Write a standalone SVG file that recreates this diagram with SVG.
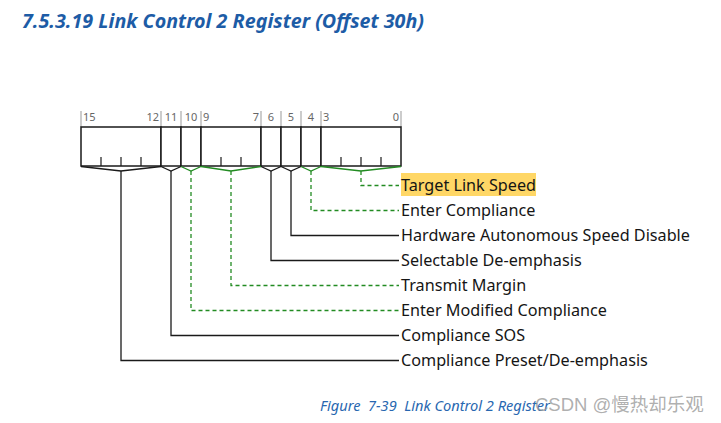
<svg xmlns="http://www.w3.org/2000/svg" width="721" height="423" viewBox="0 0 721 423">
<style>
.bg{fill:#ffffff}
.title{font-family:"Noto Sans",sans-serif;font-weight:bold;font-style:italic;font-size:19.7px;fill:#1d5ca6}
.cap{font-family:"Noto Sans",sans-serif;font-style:italic;font-size:14.6px;fill:#2867b0}
.wm{font-family:"Liberation Sans","Noto Sans CJK SC",sans-serif;font-size:18.5px;fill:#9a9a9a;fill-opacity:0.8}
.bit{font-family:"Noto Sans",sans-serif;font-size:11px;fill:#666}
.lbl{font-family:"Noto Sans",sans-serif;font-size:16.2px;fill:#151515}
.fld{fill:#fff;stroke:#1a1a1a;stroke-width:1.5}
.tick{stroke:#1a1a1a;stroke-width:1.2}
.top{stroke:#999;stroke-width:1}
.k{fill:none;stroke:#1a1a1a;stroke-width:1.3}
.g{fill:none;stroke:#228b22;stroke-width:1.3}
.gd{fill:none;stroke:#228b22;stroke-width:1.3;stroke-dasharray:4 3}
</style>
<rect class="bg" x="0" y="0" width="721" height="423"/>
<text class="title" x="22" y="28">7.5.3.19 Link Control 2 Register (Offset 30h)</text>

<g id="bit-labels">
<line class="top" x1="81" y1="111" x2="81" y2="127"/>
<line class="top" x1="161" y1="111" x2="161" y2="127"/>
<line class="top" x1="181" y1="111" x2="181" y2="127"/>
<line class="top" x1="201" y1="111" x2="201" y2="127"/>
<line class="top" x1="261" y1="111" x2="261" y2="127"/>
<line class="top" x1="281" y1="111" x2="281" y2="127"/>
<line class="top" x1="301" y1="111" x2="301" y2="127"/>
<line class="top" x1="321" y1="111" x2="321" y2="127"/>
<line class="top" x1="401" y1="111" x2="401" y2="127"/>
<text class="bit" x="83" y="121">15</text>
<text class="bit" x="159" y="121" text-anchor="end">12</text>
<text class="bit" x="171" y="121" text-anchor="middle">11</text>
<text class="bit" x="191" y="121" text-anchor="middle">10</text>
<text class="bit" x="203" y="121">9</text>
<text class="bit" x="259" y="121" text-anchor="end">7</text>
<text class="bit" x="271" y="121" text-anchor="middle">6</text>
<text class="bit" x="291" y="121" text-anchor="middle">5</text>
<text class="bit" x="311" y="121" text-anchor="middle">4</text>
<text class="bit" x="323" y="121">3</text>
<text class="bit" x="399" y="121" text-anchor="end">0</text>
</g>

<g id="field-15-12"><rect class="fld" x="81" y="127" width="80" height="39"/>
<line class="tick" x1="101" y1="157" x2="101" y2="166"/><line class="tick" x1="121" y1="157" x2="121" y2="166"/><line class="tick" x1="141" y1="157" x2="141" y2="166"/></g>
<g id="field-11"><rect class="fld" x="161" y="127" width="20" height="39"/></g>
<g id="field-10"><rect class="fld" x="181" y="127" width="20" height="39"/></g>
<g id="field-9-7"><rect class="fld" x="201" y="127" width="60" height="39"/>
<line class="tick" x1="221" y1="157" x2="221" y2="166"/><line class="tick" x1="241" y1="157" x2="241" y2="166"/></g>
<g id="field-6"><rect class="fld" x="261" y="127" width="20" height="39"/></g>
<g id="field-5"><rect class="fld" x="281" y="127" width="20" height="39"/></g>
<g id="field-4"><rect class="fld" x="301" y="127" width="20" height="39"/></g>
<g id="field-3-0"><rect class="fld" x="321" y="127" width="80" height="39"/>
<line class="tick" x1="341" y1="157" x2="341" y2="166"/><line class="tick" x1="361" y1="157" x2="361" y2="166"/><line class="tick" x1="381" y1="157" x2="381" y2="166"/></g>

<g id="connectors">
<polyline class="k" points="81,166.5 121,171 161,166.5"/>
<polyline class="k" points="161,166.5 171,171 181,166.5"/>
<polyline class="g" points="181,166.5 191,171 201,166.5"/>
<polyline class="g" points="201,166.5 231,171 261,166.5"/>
<polyline class="k" points="261,166.5 271,171 281,166.5"/>
<polyline class="k" points="281,166.5 291,171 301,166.5"/>
<polyline class="g" points="301,166.5 311,171 321,166.5"/>
<polyline class="g" points="321,166.5 361,171 401,166.5"/>
<polyline class="gd" points="361,171 361,185.5 399,185.5"/>
<polyline class="gd" points="311,171 311,210.5 399,210.5"/>
<polyline class="k" points="291,171 291,235.5 399,235.5"/>
<polyline class="k" points="271,171 271,260.5 399,260.5"/>
<polyline class="gd" points="231,171 231,285.5 399,285.5"/>
<polyline class="gd" points="191,171 191,310.5 399,310.5"/>
<polyline class="k" points="171,171 171,335.5 399,335.5"/>
<polyline class="k" points="121,171 121,360.5 399,360.5"/>
</g>

<g id="label-target-link-speed"><rect x="401" y="173" width="135" height="23" fill="#ffd766"/><text class="lbl" x="401" y="191">Target Link Speed</text></g>
<g id="label-enter-compliance"><text class="lbl" x="401" y="216">Enter Compliance</text></g>
<g id="label-hw-autonomous"><text class="lbl" x="401" y="241">Hardware Autonomous Speed Disable</text></g>
<g id="label-selectable"><text class="lbl" x="401" y="266">Selectable De-emphasis</text></g>
<g id="label-transmit-margin"><text class="lbl" x="401" y="291">Transmit Margin</text></g>
<g id="label-enter-modified"><text class="lbl" x="401" y="316">Enter Modified Compliance</text></g>
<g id="label-compliance-sos"><text class="lbl" x="401" y="341">Compliance SOS</text></g>
<g id="label-compliance-preset"><text class="lbl" x="401" y="366">Compliance Preset/De-emphasis</text></g>

<text class="cap" x="320" y="411" xml:space="preserve">Figure  7-39  Link Control 2 Register</text>
<text class="wm" x="535" y="411">CSDN @慢热却乐观</text>
</svg>
